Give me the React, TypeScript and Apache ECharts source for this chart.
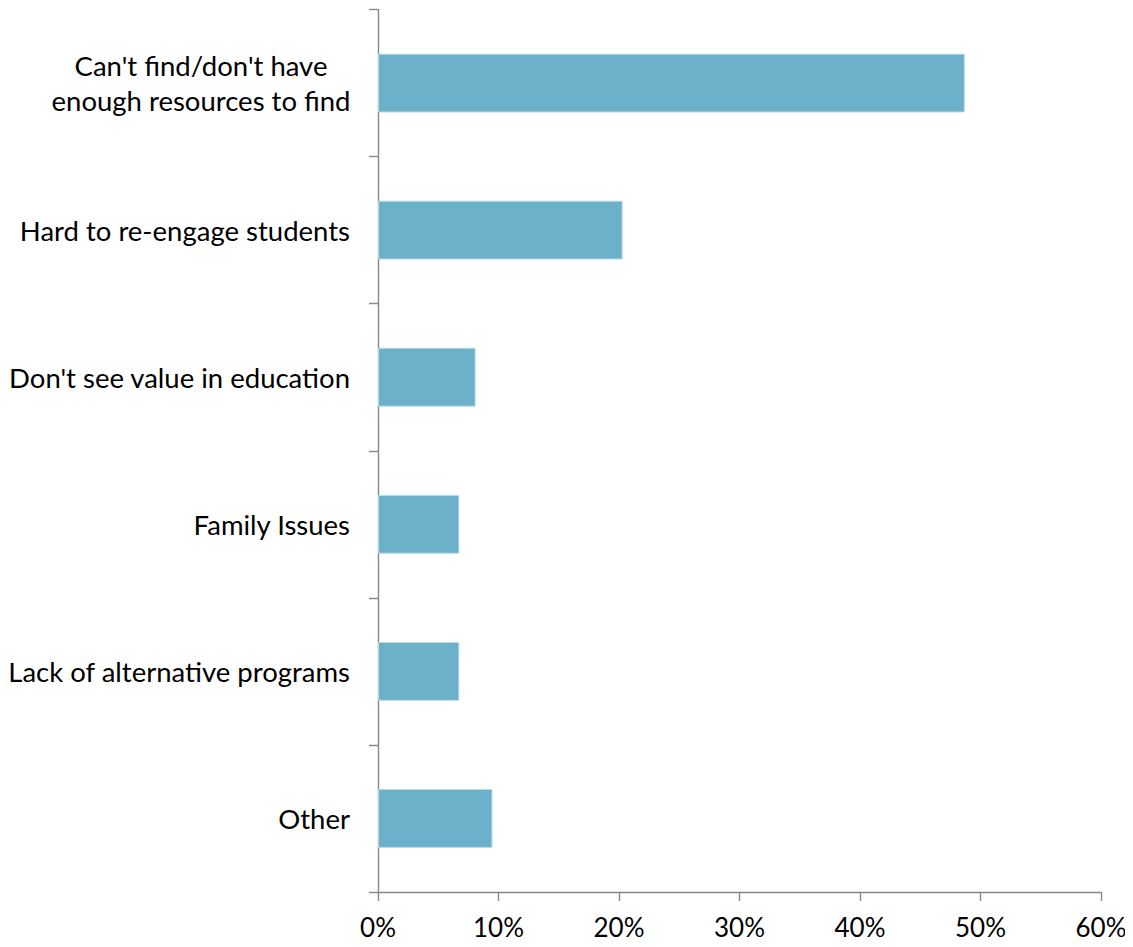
import React, { useEffect, useRef } from "react";
import * as echarts from "echarts";

const categories = [
  "Can't find/don't have\nenough resources to find",
  "Hard to re-engage students",
  "Don't see value in education",
  "Family Issues",
  "Lack of alternative programs",
  "Other",
];
const values = [48.7, 20.3, 8.1, 6.75, 6.75, 9.5];
const xTicks = [0, 10, 20, 30, 40, 50, 60];

export default function App() {
  const ref = useRef<HTMLDivElement>(null);
  useEffect(() => {
    if (!ref.current) return;
    const chart = echarts.init(ref.current, null, { renderer: "svg" });
    const font = "Lato, 'Open Sans', sans-serif";
    chart.setOption({
      animation: false,
      grid: { left: 378, right: 32, top: 9.5, bottom: 55, containLabel: false },
      xAxis: {
        type: "value",
        min: xTicks[0],
        max: xTicks[xTicks.length - 1],
        interval: 10,
        splitLine: { show: false },
        axisLine: { show: true, lineStyle: { color: "#888888", width: 1.4 } },
        axisTick: { show: true, length: 9, lineStyle: { color: "#888888", width: 1.4 } },
        axisLabel: {
          formatter: (v: number) => v + "%",
          color: "#000",
          fontFamily: font,
          fontSize: 26,
          margin: 22,
        },
      },
      yAxis: {
        type: "category",
        inverse: true,
        data: categories,
        axisLine: { show: true, lineStyle: { color: "#888888", width: 1.4 } },
        axisTick: { show: true, length: 9, lineStyle: { color: "#888888", width: 1.4 } },
        axisLabel: {
          color: "#000",
          fontFamily: font,
          fontSize: 27.5,
          margin: 28,
          lineHeight: 35,
          formatter: (v: string) =>
            v.indexOf("\n") >= 0
              ? v
                  .split("\n")
                  .map((s) => "{c|" + s + "}")
                  .join("\n")
              : v,
          rich: {
            c: {
              width: 298,
              align: "center",
              fontFamily: font,
              fontSize: 27.5,
              lineHeight: 35,
              color: "#000",
            },
          },
        },
      },
      series: [
        {
          type: "bar",
          data: values,
          barCategoryGap: "60%",
          itemStyle: {
            color: "#6bb1ca",
            borderColor: "#b8dbe8",
            borderWidth: 1,
          },
        },
      ],
    });
    return () => chart.dispose();
  }, []);
  return <div ref={ref} style={{ width: 1133, height: 947, margin: -8 }} />;
}
